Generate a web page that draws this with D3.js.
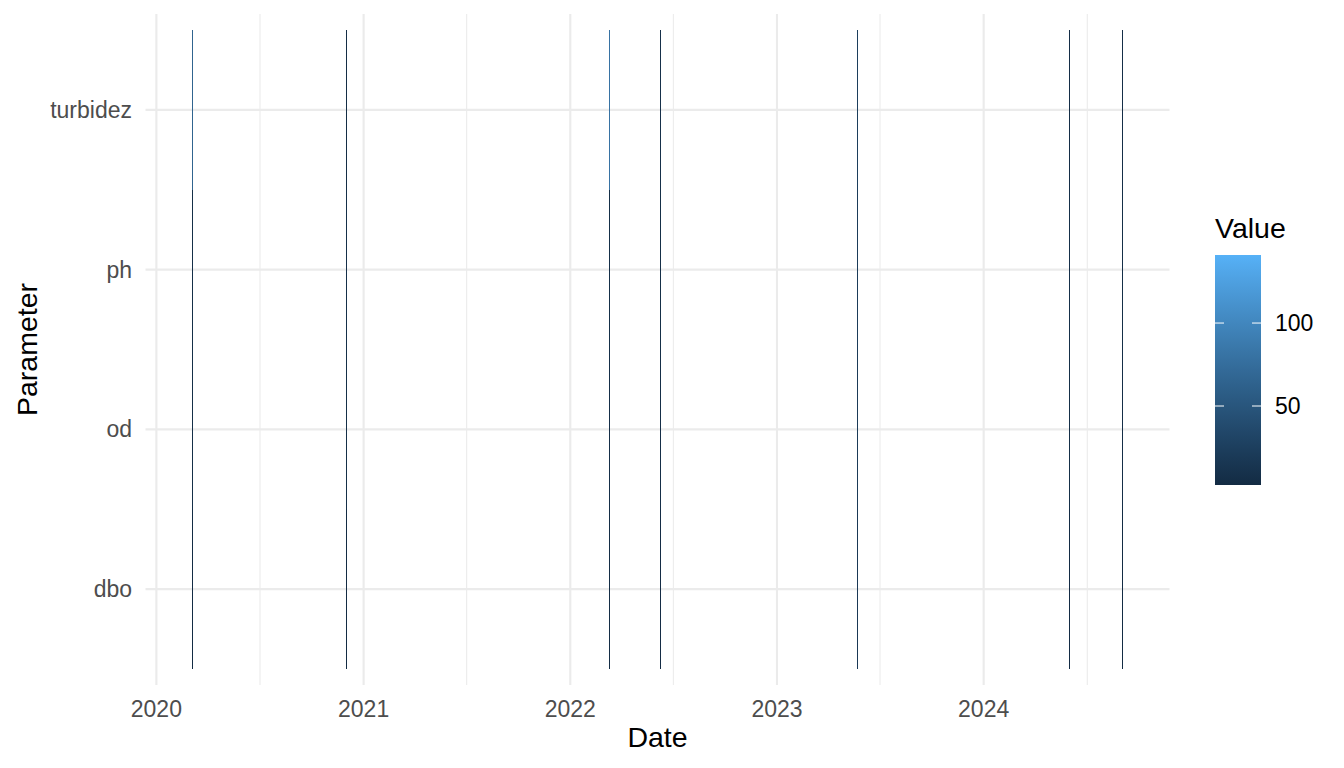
<!DOCTYPE html>
<html>
  <head>
    <title>Parameter heatmap</title>
    <script src="https://d3js.org/d3.v7.min.js"></script>
    <style>
      body { margin: 0; background: #fff; }
      text { font-family: "Liberation Sans", Arial, sans-serif; }
    </style>
  </head>
  <body>
    <div id="chart"></div>
    <script>
      // Data
      var dates = ["2020-03-04", "2020-12-02", "2022-03-11", "2022-06-10", "2023-05-24", "2024-06-01", "2024-09-03"];
      var params = ["dbo", "od", "ph", "turbidez"];
      var dboValues = [3.1, 2.4, 4.5, 3.8, 18, 2.9, 3.5];
      var odValues = [6.8, 7.2, 5.9, 6.4, 20, 7.0, 6.1];
      var phValues = [7.1, 7.4, 6.9, 7.2, 21, 7.3, 7.0];
      var turbidezValues = [65, 4.2, 80, 8.5, 24, 5.1, 6.0];
      var valueLimits = [2.4, 141];
      var yearTicks = ["2020", "2021", "2022", "2023", "2024"];
      var legendTicks = [50, 100];

      var parse = d3.timeParse("%Y-%m-%d");
      var valuesByParam = { dbo: dboValues, od: odValues, ph: phValues, turbidez: turbidezValues };
      var data = [];
      params.forEach(function(p) {
        dates.forEach(function(d, i) {
          data.push({ date: parse(d), param: p, value: valuesByParam[p][i] });
        });
      });

      var width = 1344, height = 768;
      var svg = d3.select("#chart").append("svg")
        .attr("width", width)
        .attr("height", height);

      var panel = { left: 145.5, right: 1169.5, top: 14, bottom: 685 };

      // x scale with 5% expansion like ggplot
      var ext = d3.extent(data, function(d) { return d.date; });
      var span = ext[1] - ext[0];
      var xScale = d3.scaleTime()
        .domain([new Date(+ext[0] - span * 0.05), new Date(+ext[1] + span * 0.05)])
        .range([panel.left, panel.right]);

      // y: discrete, 0.6 expansion
      var yScale = d3.scaleLinear()
        .domain([0.4, params.length + 0.6])
        .range([panel.bottom, panel.top]);
      function yPos(p) { return yScale(params.indexOf(p) + 1); }

      var color = d3.scaleLinear()
        .domain(valueLimits)
        .range(["#132B43", "#56B1F7"])
        .interpolate(d3.interpolateLab);

      // grid lines
      var grid = svg.append("g");
      var minorYears = [];
      yearTicks.forEach(function(y) { minorYears.push(new Date(+y, 6, 2)); });
      minorYears.push(new Date(2019, 6, 2));
      grid.selectAll(".minor")
        .data(minorYears.filter(function(d) { var x = xScale(d); return x >= panel.left && x <= panel.right; }))
        .enter().append("line")
        .attr("x1", function(d) { return xScale(d); })
        .attr("x2", function(d) { return xScale(d); })
        .attr("y1", panel.top).attr("y2", panel.bottom)
        .attr("stroke", "#EBEBEB").attr("stroke-width", 1.07);
      grid.selectAll(".majx")
        .data(yearTicks)
        .enter().append("line")
        .attr("x1", function(d) { return xScale(parse(d + "-01-01")); })
        .attr("x2", function(d) { return xScale(parse(d + "-01-01")); })
        .attr("y1", panel.top).attr("y2", panel.bottom)
        .attr("stroke", "#EBEBEB").attr("stroke-width", 2.13);
      grid.selectAll(".majy")
        .data(params)
        .enter().append("line")
        .attr("x1", panel.left).attr("x2", panel.right)
        .attr("y1", function(d) { return yPos(d); })
        .attr("y2", function(d) { return yPos(d); })
        .attr("stroke", "#EBEBEB").attr("stroke-width", 2.13);

      // tiles (one day wide)
      var day = 24 * 3600 * 1000;
      svg.append("g").selectAll("rect")
        .data(data)
        .enter().append("rect")
        .attr("shape-rendering", "crispEdges")
        .attr("x", function(d) { return Math.floor(xScale(d.date)); })
        .attr("width", function(d) {
          return Math.max(1, Math.round(xScale(new Date(+d.date + day)) - xScale(d.date)));
        })
        .attr("y", function(d) { return yScale(params.indexOf(d.param) + 1.5); })
        .attr("height", function(d) { return yScale(params.indexOf(d.param) + 0.5) - yScale(params.indexOf(d.param) + 1.5); })
        .attr("fill", function(d) { return color(d.value); });

      // x axis labels
      svg.append("g").selectAll("text")
        .data(yearTicks)
        .enter().append("text")
        .attr("x", function(d) { return xScale(parse(d + "-01-01")); })
        .attr("y", 717)
        .attr("text-anchor", "middle")
        .attr("font-size", 23)
        .attr("fill", "#4D4D4D")
        .text(function(d) { return d; });

      // y axis labels
      svg.append("g").selectAll("text")
        .data(params)
        .enter().append("text")
        .attr("x", 132)
        .attr("y", function(d) { return yPos(d); })
        .attr("dy", "0.35em")
        .attr("text-anchor", "end")
        .attr("font-size", 23)
        .attr("fill", "#4D4D4D")
        .text(function(d) { return d; });

      // axis titles
      svg.append("text")
        .attr("x", (panel.left + panel.right) / 2)
        .attr("y", 747)
        .attr("text-anchor", "middle")
        .attr("font-size", 28.5)
        .attr("fill", "#000")
        .text("Date");
      svg.append("text")
        .attr("transform", "translate(37," + ((panel.top + panel.bottom) / 2) + ") rotate(-90)")
        .attr("text-anchor", "middle")
        .attr("font-size", 28.5)
        .attr("fill", "#000")
        .text("Parameter");

      // legend
      var leg = { x: 1215, w: 46, top: 255, bottom: 485 };
      var legScale = d3.scaleLinear().domain(valueLimits).range([leg.bottom, leg.top]);
      var defs = svg.append("defs");
      var grad = defs.append("linearGradient")
        .attr("id", "grad")
        .attr("x1", "0").attr("y1", "1").attr("x2", "0").attr("y2", "0");
      d3.range(0, 1.0001, 0.1).forEach(function(t) {
        grad.append("stop")
          .attr("offset", t)
          .attr("stop-color", color(valueLimits[0] + t * (valueLimits[1] - valueLimits[0])));
      });
      svg.append("text")
        .attr("x", leg.x)
        .attr("y", 238)
        .attr("font-size", 28.5)
        .attr("fill", "#000")
        .text("Value");
      svg.append("rect")
        .attr("x", leg.x).attr("y", leg.top)
        .attr("width", leg.w).attr("height", leg.bottom - leg.top)
        .attr("fill", "url(#grad)");
      var lt = svg.append("g").selectAll("g")
        .data(legendTicks)
        .enter().append("g");
      lt.append("line")
        .attr("x1", leg.x).attr("x2", leg.x + 9)
        .attr("y1", function(d) { return legScale(d); })
        .attr("y2", function(d) { return legScale(d); })
        .attr("stroke", "#fff").attr("stroke-width", 1);
      lt.append("line")
        .attr("x1", leg.x + leg.w - 9).attr("x2", leg.x + leg.w)
        .attr("y1", function(d) { return legScale(d); })
        .attr("y2", function(d) { return legScale(d); })
        .attr("stroke", "#fff").attr("stroke-width", 1);
      lt.append("text")
        .attr("x", leg.x + leg.w + 14)
        .attr("y", function(d) { return legScale(d); })
        .attr("dy", "0.35em")
        .attr("font-size", 23)
        .attr("fill", "#000")
        .text(function(d) { return d; });
    </script>
  </body>
</html>
